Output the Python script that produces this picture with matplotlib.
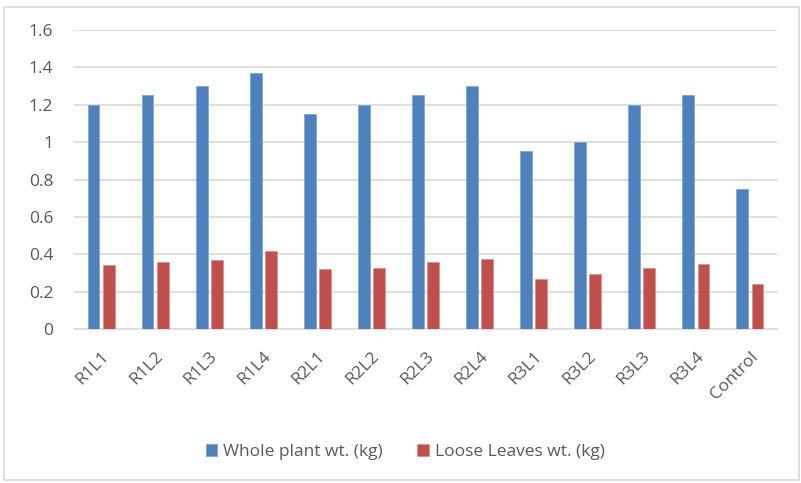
import numpy as np
import matplotlib
matplotlib.use("Agg")
import matplotlib.pyplot as plt
from matplotlib.patches import Rectangle

plt.rcParams['font.family'] = ['Open Sans', 'DejaVu Sans']

# 数据
categories = ["R1L1", "R1L2", "R1L3", "R1L4", "R2L1", "R2L2", "R2L3", "R2L4",
              "R3L1", "R3L2", "R3L3", "R3L4", "Control"]
whole_plant = [1.20, 1.25, 1.30, 1.37, 1.15, 1.20, 1.25, 1.30, 0.95, 1.00, 1.20, 1.25, 0.75]
loose_leaves = [0.34, 0.36, 0.37, 0.42, 0.32, 0.325, 0.36, 0.375, 0.27, 0.295, 0.325, 0.35, 0.24]
yticks = [0, 0.2, 0.4, 0.6, 0.8, 1, 1.2, 1.4, 1.6]
ytick_labels = ["0", "0.2", "0.4", "0.6", "0.8", "1", "1.2", "1.4", "1.6"]

blue = "#4f81bd"
red = "#c0504d"
grid_c = "#d9d9d9"
text_c = "#595959"
fs = 12.5

fig = plt.figure(figsize=(8.01, 4.83), dpi=100)
# 外边框
fig.patches.append(Rectangle((0.005, 0.006), 0.992, 0.98, transform=fig.transFigure,
                             fill=False, edgecolor=grid_c, linewidth=1.2))

ax = fig.add_axes([74 / 801, 1 - 329 / 483, (777 - 74) / 801, (329 - 30) / 483])

x = np.arange(len(categories))
w = 0.22
ax.bar(x - 0.14, whole_plant, w, color=blue, edgecolor="#7fa6d6", linewidth=0.6,
       label="Whole plant wt. (kg)", zorder=3)
ax.bar(x + 0.14, loose_leaves, w, color=red, edgecolor="#e0908e", linewidth=0.6,
       label="Loose Leaves wt. (kg)", zorder=3)

ax.set_xlim(-0.5, len(categories) - 0.5)
ax.set_ylim(0, 1.6)
ax.set_yticks(yticks)
ax.set_yticklabels(ytick_labels, fontsize=fs, color=text_c)
ax.yaxis.grid(True, color=grid_c, linewidth=1.2, zorder=0)
ax.set_axisbelow(True)
ax.tick_params(axis='y', length=0, pad=15)
ax.tick_params(axis='x', length=0, pad=14)
ax.set_xticks(x)
ax.set_xticklabels(categories, rotation=45, ha="right", va="top",
                   rotation_mode="anchor", fontsize=fs, color=text_c)
for s in ["top", "right", "left"]:
    ax.spines[s].set_visible(False)
ax.spines["bottom"].set_color(grid_c)
ax.spines["bottom"].set_linewidth(1.2)

fig.legend(loc="center", bbox_to_anchor=(405 / 801, 1 - 452 / 483), ncol=2,
           frameon=False, fontsize=fs, handlelength=0.65, handleheight=0.65,
           handletextpad=0.35, columnspacing=2.0, labelcolor=text_c)

fig.savefig("out.png", dpi=100)
